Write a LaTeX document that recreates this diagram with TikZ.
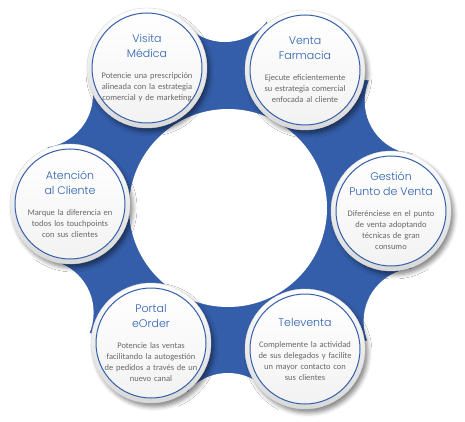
\documentclass[tikz,border=0pt]{standalone}
\usepackage{fontspec}
\setmainfont{Carlito}
\newfontfamily\titlefont{Poppins Light}
\usetikzlibrary{calc,shadows.blur}
\definecolor{bandblue}{RGB}{52,94,170}
\definecolor{titleblue}{RGB}{44,96,176}
\definecolor{bodygray}{RGB}{105,105,105}
\newcommand{\bubtitle}[1]{{\color{titleblue}\titlefont\fontsize{11}{15}\selectfont #1\par}\vspace{10pt}}
\tikzset{
  bevel/.style={top color=white, bottom color=gray!30, draw=gray!30, line width=.4pt,
    blur shadow={shadow xshift=3pt, shadow yshift=-4pt, shadow blur radius=4pt, shadow opacity=45}},
  bubble/.style={circle, minimum size=110pt, inner sep=0pt, draw=bandblue, line width=1pt,
    top color=white, bottom color=gray!10},
  bubtext/.style={text width=106pt, align=center, text=bodygray, font=\fontsize{8.5}{11}\selectfont},
}
\begin{document}
\begin{tikzpicture}[x=1pt,y=-1pt]
\useasboundingbox (0,0) rectangle (465,422);
% centres of the six bubbles
\coordinate (ctr) at (228,208);
\coordinate (visC) at (147,68);
\coordinate (venC) at (305,70);
\coordinate (gesC) at (391,211);
\coordinate (telC) at (305,349);
\coordinate (porC) at (151,343);
\coordinate (ateC) at (70,204);

% blue band
\foreach \a/\b in {visC/venC,venC/gesC,gesC/telC,telC/porC,porC/ateC,ateC/visC} {
  \coordinate (m-\a) at ($(\a)!.5!(\b)$);
  \coordinate (p-\a) at ($(m-\a)!-100pt!(ctr)$);
  \coordinate (q-\a) at ($(m-\a)!-80pt!(ctr)$);
}
\fill[bandblue] (visC) -- (p-visC) -- (venC) -- (p-venC) -- (gesC) -- (p-gesC)
  -- (telC) -- (p-telC) -- (porC) -- (p-porC) -- (ateC) -- (p-ateC) -- cycle;
\foreach \a in {visC,venC,gesC,telC,porC,ateC}
  \fill[white] (q-\a) circle (53pt);
\fill[white] (ctr) circle (99pt);

% bubbles
\foreach \n in {visC,venC,gesC,telC,porC,ateC}
  \path[bevel] (\n) circle (60pt);

\node[bubble] (vis) at (visC) {};
\node[bubble] (ven) at (venC) {};
\node[bubble] (ges) at (gesC) {};
\node[bubble] (tel) at (telC) {};
\node[bubble] (por) at (porC) {};
\node[bubble] (ate) at (ateC) {};

\node[bubtext] (visT) at (vis) {\bubtitle{Visita\\Médica}Potencie una prescripción\\alineada con la estrategia\\comercial y de marketing};
\node[bubtext] (venT) at (ven) {\bubtitle{Venta\\Farmacia}Ejecute eficientemente\\su estrategia comercial\\enfocada al cliente};
\node[bubtext] (gesT) at (ges) {\bubtitle{Gestión\\Punto de Venta}Diferénciese en el punto\\de venta adoptando\\técnicas de gran\\consumo};
\node[bubtext] (telT) at (tel) {\bubtitle{Televenta}Complemente la actividad\\de sus delegados y facilite\\un mayor contacto con\\sus clientes};
\node[bubtext] (porT) at (por) {\bubtitle{Portal\\eOrder}Potencie las ventas\\facilitando la autogestión\\de pedidos a través de un\\nuevo canal};
\node[bubtext] (ateT) at (ate) {\bubtitle{Atención\\al Cliente}Marque la diferencia en\\todos los touchpoints\\con sus clientes};
\end{tikzpicture}
\end{document}
